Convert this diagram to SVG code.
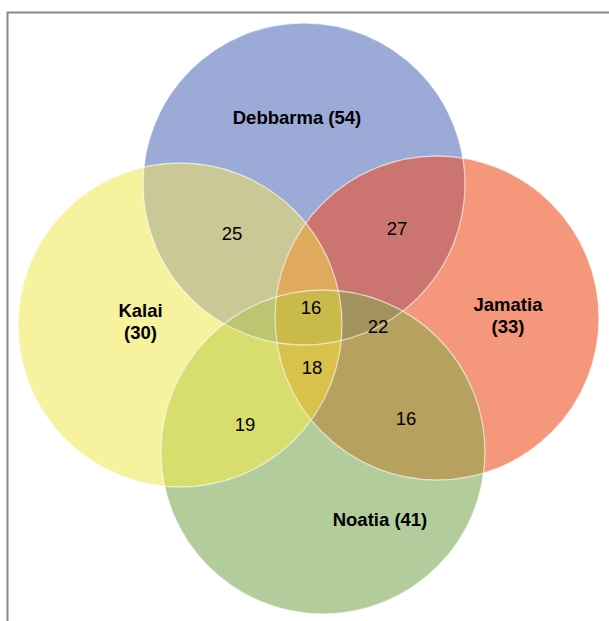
<svg xmlns="http://www.w3.org/2000/svg" width="609" height="621" viewBox="0 0 609 621">
<style>
.lbl{font-family:"Liberation Sans",Arial,sans-serif;font-size:18.5px;font-weight:bold;fill:#000;text-anchor:middle}
.num{font-family:"Liberation Sans",Arial,sans-serif;font-size:18.5px;fill:#000;text-anchor:middle}
.ol{fill:none;stroke:#ffffff;stroke-opacity:0.6;stroke-width:1.3}
</style>
<defs>
<clipPath id="cB"><circle cx="304" cy="184" r="161"/></clipPath>
<clipPath id="cY"><circle cx="180" cy="325" r="162"/></clipPath>
<clipPath id="cS"><circle cx="437" cy="318" r="162"/></clipPath>
<clipPath id="cG"><circle cx="323" cy="452" r="162"/></clipPath>
</defs>
<rect width="609" height="621" fill="#ffffff"/>
<path d="M7.5,621 V12.5 H609" fill="none" stroke="#8a8a8a" stroke-width="2"/>
<g id="debbarma">
<circle cx="304" cy="184" r="161" fill="#9BAAD6"/>
<text class="lbl" x="297" y="124">Debbarma (54)</text>
</g>
<g id="kalai">
<circle cx="180" cy="325" r="162" fill="#F7F29E"/>
<text class="lbl" x="140.5" y="317">Kalai</text>
<text class="lbl" x="140.5" y="339">(30)</text>
</g>
<g id="jamatia">
<circle cx="437" cy="318" r="162" fill="#F5977A"/>
<text class="lbl" x="508" y="311">Jamatia</text>
<text class="lbl" x="508" y="333">(33)</text>
</g>
<g id="noatia">
<circle cx="323" cy="452" r="162" fill="#B2CD9B"/>
<text class="lbl" x="380" y="526">Noatia (41)</text>
</g>
<g id="overlaps">
<circle cx="180" cy="325" r="162" fill="#CAC896" clip-path="url(#cB)"/>
<circle cx="437" cy="318" r="162" fill="#CB7470" clip-path="url(#cB)"/>
<circle cx="323" cy="452" r="162" fill="#D8DE6E" clip-path="url(#cY)"/>
<circle cx="323" cy="452" r="162" fill="#B7A15E" clip-path="url(#cS)"/>
<g clip-path="url(#cB)"><circle cx="437" cy="318" r="162" fill="#E0AA5C" clip-path="url(#cY)"/></g>
<g clip-path="url(#cB)"><circle cx="323" cy="452" r="162" fill="#BCC56F" clip-path="url(#cY)"/></g>
<g clip-path="url(#cB)"><circle cx="323" cy="452" r="162" fill="#A2935F" clip-path="url(#cS)"/></g>
<g clip-path="url(#cY)"><circle cx="323" cy="452" r="162" fill="#D8C24A" clip-path="url(#cS)"/></g>
<g clip-path="url(#cB)"><g clip-path="url(#cY)"><circle cx="323" cy="452" r="162" fill="#CABA4C" clip-path="url(#cS)"/></g></g>
</g>
<g id="outlines">
<circle class="ol" cx="304" cy="184" r="161"/>
<circle class="ol" cx="180" cy="325" r="162"/>
<circle class="ol" cx="437" cy="318" r="162"/>
<circle class="ol" cx="323" cy="452" r="162"/>
</g>
<g id="region-labels">
<text class="num" x="232" y="240">25</text>
<text class="num" x="397" y="235">27</text>
<text class="num" x="311" y="314">16</text>
<text class="num" x="378" y="333">22</text>
<text class="num" x="312" y="374">18</text>
<text class="num" x="245" y="431">19</text>
<text class="num" x="406" y="425">16</text>
</g>
</svg>
